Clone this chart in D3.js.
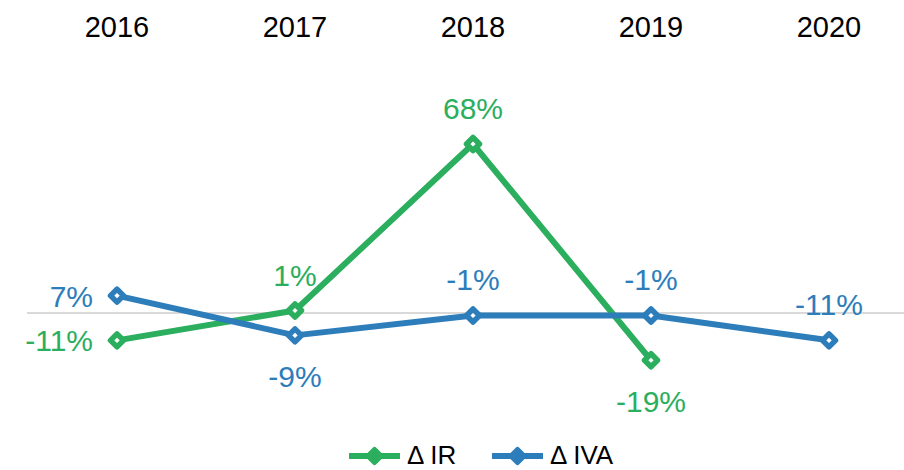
<!DOCTYPE html>
<html>
<head>
<meta charset="utf-8">
<script src="https://cdn.jsdelivr.net/npm/d3@7/dist/d3.min.js"></script>
<style>
  html, body { margin: 0; padding: 0; background: #fff; }
  svg { display: block; font-family: "Liberation Sans", Arial, sans-serif; }
</style>
</head>
<body>
<svg id="chart" width="904" height="470"></svg>
<script>
const years = ['2016', '2017', '2018', '2019', '2020'];
const irValues = [-11, 1, 68, -19, null];
const ivaValues = [7, -9, -1, -1, -11];
const irLabels = ['-11%', '1%', '68%', '-19%', null];
const ivaLabels = ['7%', '-9%', '-1%', '-1%', '-11%'];
const irLabelPos = ['left', 'above', 'above', 'below', null];
const ivaLabelPos = ['left', 'below', 'above', 'above', 'above'];

const width = 904, height = 470;
const green = '#2bae5e';
const blue = '#2c7dba';

const svg = d3.select('#chart');

const x = d3.scalePoint().domain(years).range([117, 829]);
const y = d3.scaleLinear().domain([0, 68]).range([313, 144]);

// zero line
svg.append('line')
  .attr('x1', 27).attr('x2', width)
  .attr('y1', y(0)).attr('y2', y(0))
  .attr('stroke', '#d9d9d9')
  .attr('stroke-width', 2);

// category labels at the top
svg.append('g')
  .selectAll('text')
  .data(years)
  .enter().append('text')
  .attr('x', d => x(d))
  .attr('y', 37)
  .attr('text-anchor', 'middle')
  .attr('fill', '#000')
  .style('font-size', '29px')
  .text(d => d);

const diamond = 'M0,-6.5L6.5,0L0,6.5L-6.5,0Z';

const series = [
  { name: '\u0394 IR', color: green, values: irValues, labels: irLabels, pos: irLabelPos },
  { name: '\u0394 IVA', color: blue, values: ivaValues, labels: ivaLabels, pos: ivaLabelPos }
];

const line = d3.line()
  .defined(d => d.v !== null)
  .x(d => x(d.year))
  .y(d => y(d.v));

series.forEach(s => {
  const pts = years.map((year, i) => ({ year, v: s.values[i], label: s.labels[i], pos: s.pos[i] }))
    .filter(d => d.v !== null);

  const g = svg.append('g');

  g.append('path')
    .datum(pts)
    .attr('d', line)
    .attr('fill', 'none')
    .attr('stroke', s.color)
    .attr('stroke-width', 6)
    .attr('stroke-linejoin', 'round');

  g.selectAll('.marker')
    .data(pts)
    .enter().append('path')
    .attr('class', 'marker')
    .attr('d', diamond)
    .attr('transform', d => `translate(${x(d.year)},${y(d.v)})`)
    .attr('fill', '#fff')
    .attr('stroke', s.color)
    .attr('stroke-width', 5.5)
    .attr('stroke-linejoin', 'round');

  g.selectAll('.label')
    .data(pts)
    .enter().append('text')
    .attr('class', 'label')
    .attr('x', d => d.pos === 'left' ? x(d.year) - 24 : x(d.year))
    .attr('y', d => {
      if (d.pos === 'above') return y(d.v) - 25;
      if (d.pos === 'below') return y(d.v) + 52;
      return y(d.v) + 11;
    })
    .attr('text-anchor', d => d.pos === 'left' ? 'end' : 'middle')
    .attr('fill', s.color)
    .style('font-size', '30px')
    .text(d => d.label);
});

// legend
const legend = svg.append('g');
const legendX = [349, 492];
series.forEach((s, i) => {
  const lx = legendX[i];
  const ly = 456;
  legend.append('line')
    .attr('x1', lx).attr('x2', lx + 51)
    .attr('y1', ly).attr('y2', ly)
    .attr('stroke', s.color)
    .attr('stroke-width', 6);
  legend.append('path')
    .attr('d', diamond)
    .attr('transform', `translate(${lx + 25.5},${ly})`)
    .attr('fill', s.color)
    .attr('stroke', s.color)
    .attr('stroke-width', 5)
    .attr('stroke-linejoin', 'round');
  legend.append('text')
    .attr('x', lx + 58)
    .attr('y', 464)
    .attr('fill', '#000')
    .style('font-size', '26px')
    .text(s.name);
});
</script>
</body>
</html>
